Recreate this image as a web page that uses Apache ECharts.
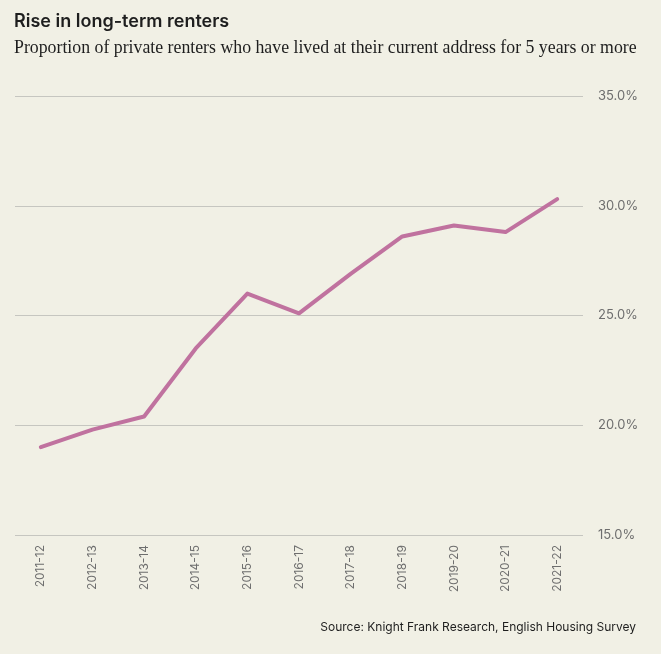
<!DOCTYPE html>
<html>
<head>
<meta charset="utf-8">
<script src="https://cdn.jsdelivr.net/npm/echarts@6/dist/echarts.min.js"></script>
<style>
html,body{margin:0;padding:0;background:#f1f0e5;}
#c{width:661px;height:654px;}
</style>
</head>
<body>
<div id="c"></div>
<script>
const categories = ['2011-12','2012-13','2013-14','2014-15','2015-16','2016-17','2017-18','2018-19','2019-20','2020-21','2021-22'];
const values = [19.0, 19.8, 20.4, 23.5, 26.0, 25.1, 26.9, 28.6, 29.1, 28.8, 30.3];
const yTicks = {min: 15, max: 35, interval: 5};

const chart = echarts.init(document.getElementById('c'));
chart.setOption({
  backgroundColor: '#f1f0e5',
  animation: false,
  title: [
    {text: 'Rise in long-term renters', left: 9, top: 8,
     textStyle: {fontFamily: 'Inter', fontWeight: 600, fontSize: 18, color: '#1e1e1e'}},
    {text: 'Proportion of private renters who have lived at their current address for 5 years or more', left: 9, top: 34,
     textStyle: {fontFamily: 'Liberation Serif', fontWeight: 'normal', fontSize: 17.8, color: '#1e1e1e'}},
    {text: 'Source: Knight Frank Research, English Housing Survey', right: 20, top: 616,
     textStyle: {fontFamily: 'Inter', fontWeight: 'normal', fontSize: 12, color: '#1e1e1e'}}
  ],
  grid: {left: 15, right: 78, top: 96, bottom: 119},
  xAxis: {
    type: 'category',
    data: categories,
    boundaryGap: true,
    axisLine: {show: false},
    axisTick: {show: false},
    axisLabel: {rotate: 90, margin: 10, fontFamily: 'Inter', fontSize: 12, color: '#6e6e6e'}
  },
  yAxis: {
    type: 'value',
    position: 'right',
    min: yTicks.min, max: yTicks.max, interval: yTicks.interval,
    axisLine: {show: false},
    axisTick: {show: false},
    axisLabel: {margin: 15, fontFamily: 'Inter', fontSize: 13, color: '#6e6e6e',
      formatter: v => v.toFixed(1) + '%'},
    splitLine: {lineStyle: {color: '#c6c6c0', width: 1}}
  },
  series: [{
    type: 'line',
    data: values,
    symbol: 'none',
    lineStyle: {color: '#c0729f', width: 4, cap: 'round', join: 'round'}
  }]
});
</script>
</body>
</html>
